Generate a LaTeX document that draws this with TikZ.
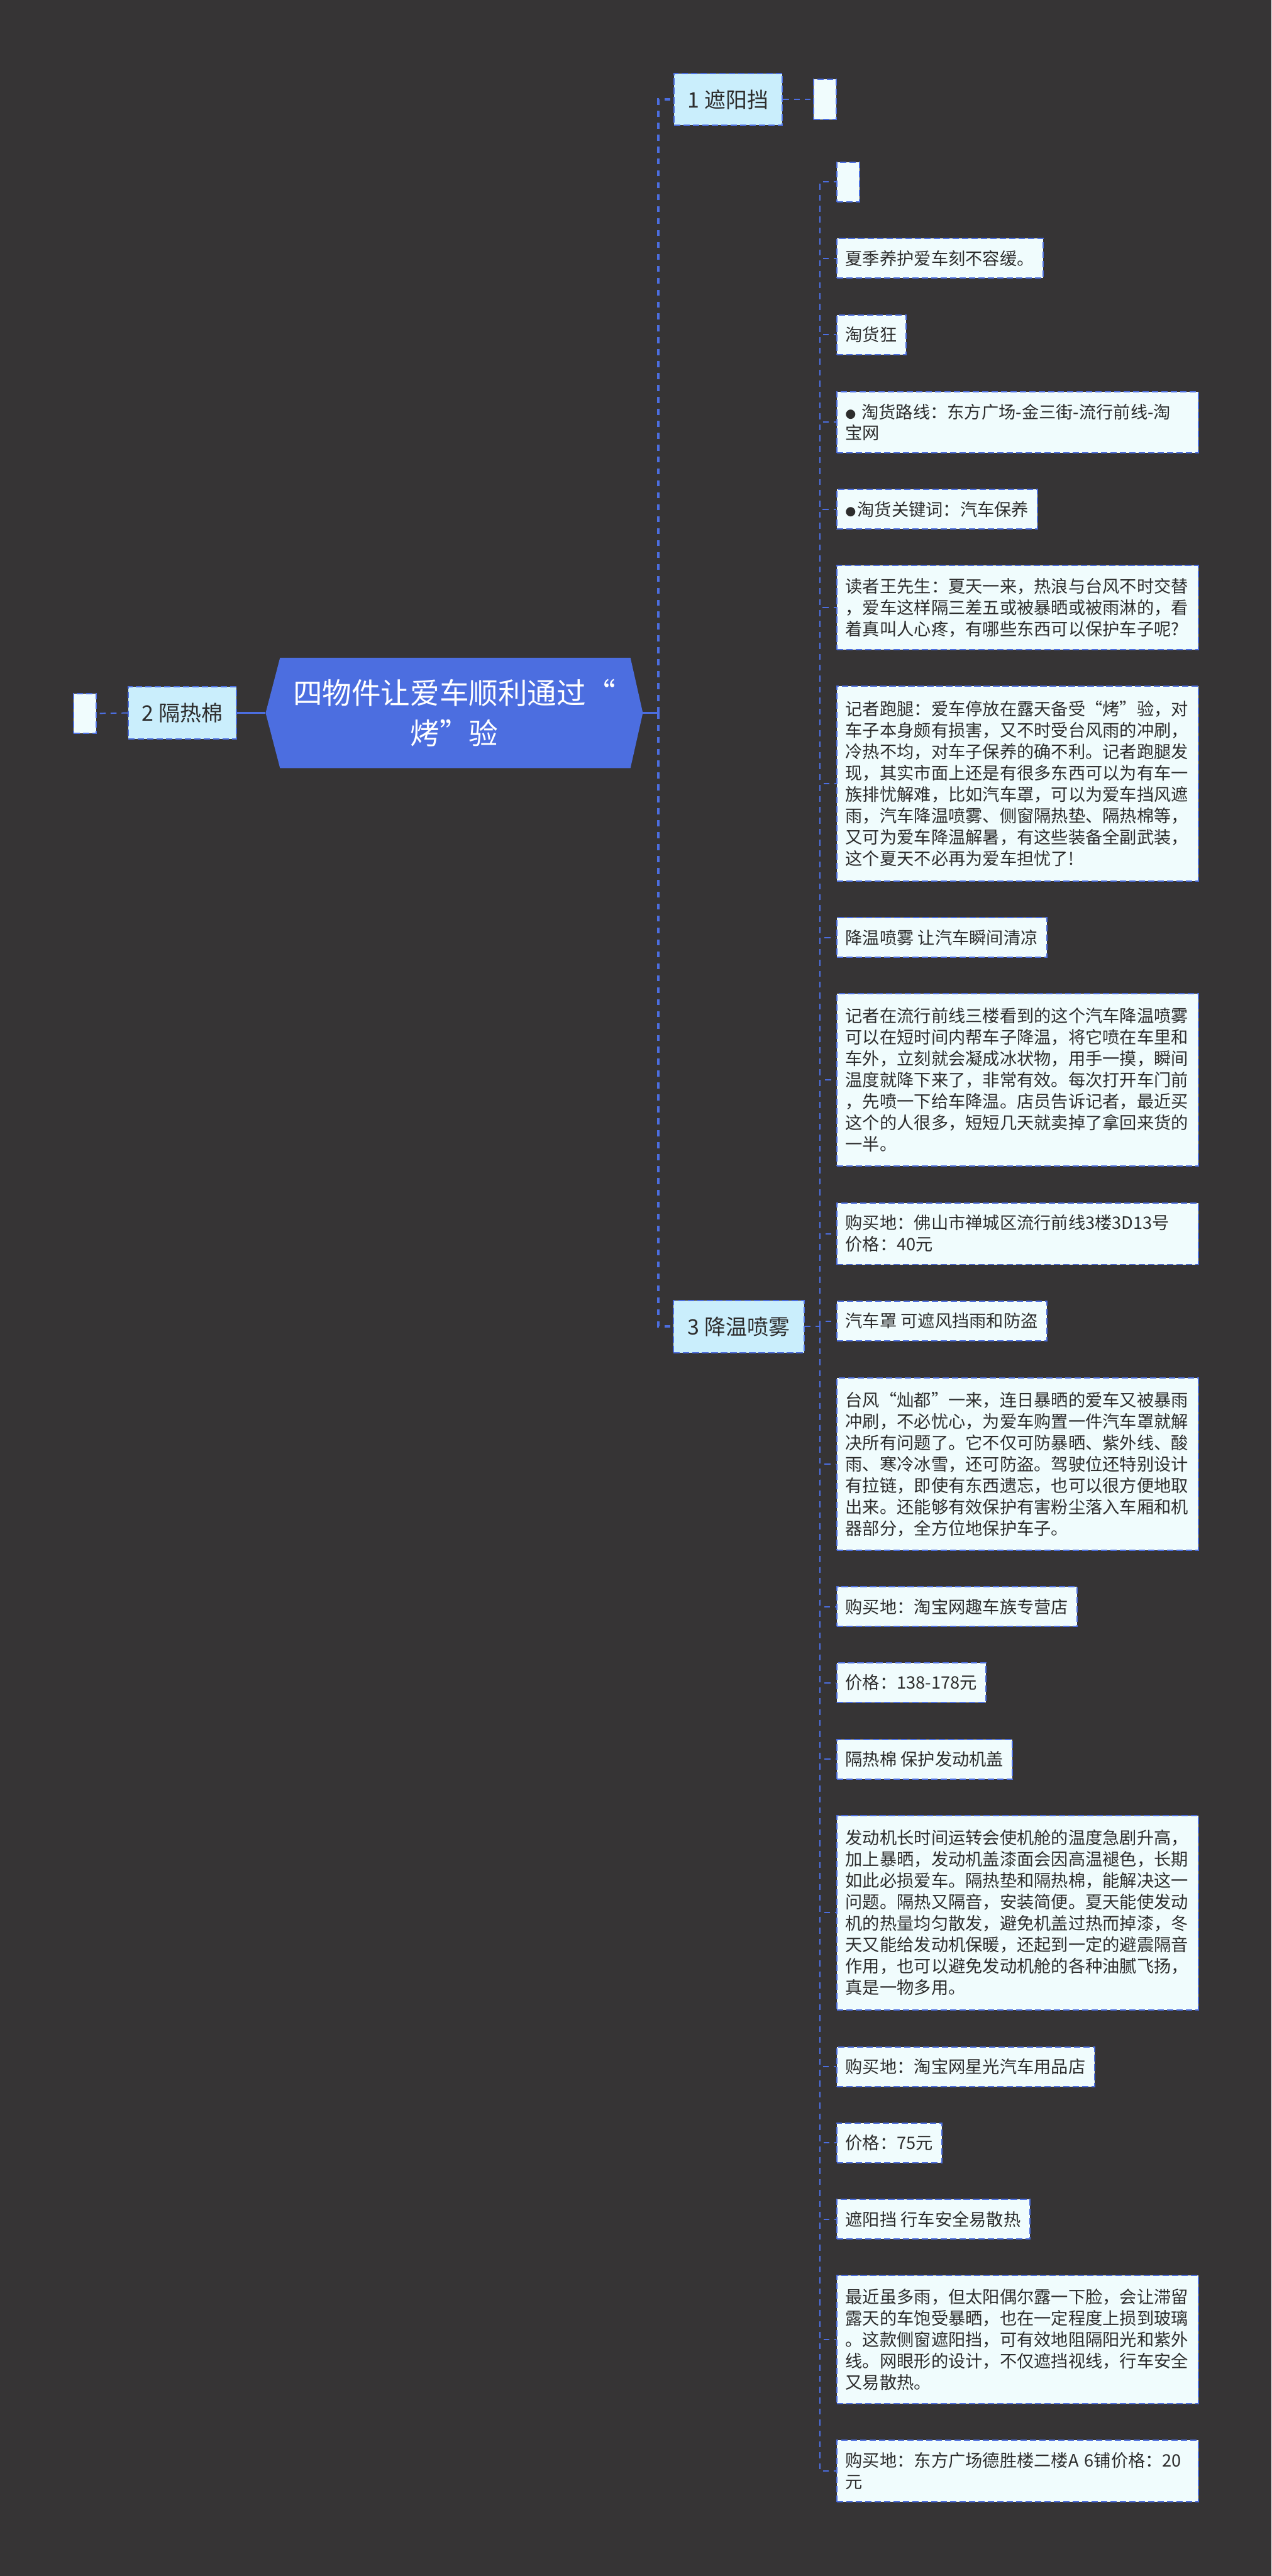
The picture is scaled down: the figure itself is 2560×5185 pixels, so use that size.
\documentclass[tikz,border=0pt]{standalone}
\usepackage{fontspec}
\setmainfont{Noto Sans CJK SC}
\usetikzlibrary{backgrounds}
\definecolor{bgc}{RGB}{54,52,53}
\definecolor{mblue}{RGB}{76,110,224}
\definecolor{lcyan}{RGB}{202,238,252}
\definecolor{leafc}{RGB}{240,252,253}
\definecolor{txt}{RGB}{45,45,45}
\newcommand\fwoq{\makebox[1em][r]{“}}
\newcommand\fwcq{\makebox[1em][l]{”}}
\newcommand\smbullet{{\fontsize{21}{43}\selectfont ●}}
\begin{document}
\begin{tikzpicture}[x=1pt,y=-1pt,
  box/.style={draw=mblue, line width=2.5pt, dash pattern=on 13pt off 6pt, inner sep=0pt},
  topic/.style={box, fill=lcyan, text=txt, font=\fontsize{43}{50}\selectfont, minimum height=105pt},
  leaf/.style={box, fill=leafc, text=txt, font=\fontsize{34.5}{43}\selectfont, anchor=west, inner xsep=18pt, minimum height=80pt},
  leafw/.style={leaf, text width=692pt, align=left},
  emptybox/.style={box, fill=leafc, minimum width=46pt, minimum height=80pt},
  trunk/.style={draw=mblue, line width=4.5pt, dash pattern=on 12pt off 12pt},
  twig/.style={draw=mblue, line width=2.5pt, dash pattern=on 12pt off 10pt},
  solidc/.style={draw=mblue, line width=4.5pt},
]
\useasboundingbox (0,0) rectangle (2560,5185);
\begin{pgfonlayer}{background}
\fill[bgc] (0,0) rectangle (2560,5185);
\end{pgfonlayer}

% root
\node[text=white, font=\fontsize{59}{82}\selectfont, align=center, minimum width=759pt, minimum height=222pt, inner sep=0pt] (root) at (914.5,1435) {四物件让爱车顺利通过\fwoq\\%
烤\fwcq 验};
\begin{pgfonlayer}{background}
\fill[mblue] (root.west) -- ([xshift=29pt]root.north west) -- ([xshift=-25pt]root.north east) -- (root.east) -- ([xshift=-25pt]root.south east) -- ([xshift=29pt]root.south west) -- cycle;
\end{pgfonlayer}

% topics
\node[topic, minimum width=218pt] (n1) at (1466,200) {1 遮阳挡};
\node[topic, minimum width=218pt] (n2) at (367,1435) {2 隔热棉};
\node[topic, minimum width=263pt] (n3) at (1487.5,2670) {3 降温喷雾};
\node[emptybox] (e1) at (1661,200) {};
\node[emptybox] (e2) at (170.5,1436) {};

% leaves of topic 3
\node[emptybox, anchor=west] (c0) at (1683,366) {};
\node[leaf] (c1) at (1683,520) {夏季养护爱车刻不容缓。};
\node[leaf] (c2) at (1683,674) {淘货狂};
\node[leafw, minimum height=123pt] (c3) at (1683,850) {\smbullet\ 淘货路线：东方广场-金三街-流行前线-淘\\%
宝网};
\node[leaf] (c4) at (1683,1025) {\smbullet\hspace{3pt}淘货关键词：汽车保养};
\node[leafw, minimum height=170pt] (c5) at (1683,1223) {读者王先生：夏天一来，热浪与台风不时交替\\%
，爱车这样隔三差五或被暴晒或被雨淋的，看\\%
着真叫人心疼，有哪些东西可以保护车子呢?};
\node[leafw, minimum height=392pt] (c6) at (1683,1577) {记者跑腿：爱车停放在露天备受\fwoq 烤\fwcq 验，对\\%
车子本身颇有损害，又不时受台风雨的冲刷，\\%
冷热不均，对车子保养的确不利。记者跑腿发\\%
现，其实市面上还是有很多东西可以为有车一\\%
族排忧解难，比如汽车罩，可以为爱车挡风遮\\%
雨，汽车降温喷雾、侧窗隔热垫、隔热棉等，\\%
又可为爱车降温解暑，有这些装备全副武装，\\%
这个夏天不必再为爱车担忧了!};
\node[leaf] (c7) at (1683,1887) {降温喷雾 让汽车瞬间清凉};
\node[leafw, minimum height=347pt] (c8) at (1683,2174) {记者在流行前线三楼看到的这个汽车降温喷雾\\%
可以在短时间内帮车子降温，将它喷在车里和\\%
车外，立刻就会凝成冰状物，用手一摸，瞬间\\%
温度就降下来了，非常有效。每次打开车门前\\%
，先喷一下给车降温。店员告诉记者，最近买\\%
这个的人很多，短短几天就卖掉了拿回来货的\\%
一半。};
\node[leafw, minimum height=124pt] (c9) at (1683,2483) {购买地：佛山市禅城区流行前线3楼3D13号\\%
价格：40元};
\node[leaf] (c10) at (1683,2659) {汽车罩 可遮风挡雨和防盗};
\node[leafw, minimum height=347pt] (c11) at (1683,2947) {台风\fwoq 灿都\fwcq 一来，连日暴晒的爱车又被暴雨\\%
冲刷，不必忧心，为爱车购置一件汽车罩就解\\%
决所有问题了。它不仅可防暴晒、紫外线、酸\\%
雨、寒冷冰雪，还可防盗。驾驶位还特别设计\\%
有拉链，即使有东西遗忘，也可以很方便地取\\%
出来。还能够有效保护有害粉尘落入车厢和机\\%
器部分，全方位地保护车子。};
\node[leaf] (c12) at (1683,3234) {购买地：淘宝网趣车族专营店};
\node[leaf] (c13) at (1683,3387) {价格：138-178元};
\node[leaf] (c14) at (1683,3541) {隔热棉 保护发动机盖};
\node[leafw, minimum height=391pt] (c15) at (1683,3850) {发动机长时间运转会使机舱的温度急剧升高，\\%
加上暴晒，发动机盖漆面会因高温褪色，长期\\%
如此必损爱车。隔热垫和隔热棉，能解决这一\\%
问题。隔热又隔音，安装简便。夏天能使发动\\%
机的热量均匀散发，避免机盖过热而掉漆，冬\\%
天又能给发动机保暖，还起到一定的避震隔音\\%
作用，也可以避免发动机舱的各种油腻飞扬，\\%
真是一物多用。};
\node[leaf] (c16) at (1683,4160) {购买地：淘宝网星光汽车用品店};
\node[leaf] (c17) at (1683,4313) {价格：75元};
\node[leaf] (c18) at (1683,4467) {遮阳挡 行车安全易散热};
\node[leafw, minimum height=258pt] (c19) at (1683,4709) {最近虽多雨，但太阳偶尔露一下脸，会让滞留\\%
露天的车饱受暴晒，也在一定程度上损到玻璃\\%
。这款侧窗遮阳挡，可有效地阻隔阳光和紫外\\%
线。网眼形的设计，不仅遮挡视线，行车安全\\%
又易散热。};
\node[leafw, minimum height=124pt] (c20) at (1683,4974) {购买地：东方广场德胜楼二楼A 6铺价格：20\\%
元};

% connectors
\coordinate (rj) at (1325,1435);
\draw[solidc] (root.east) -- (rj);
\draw[trunk] (rj) |- (n1.west);
\draw[trunk] (rj) |- (n3.west);
\draw[solidc] (root.west) -- (n2.east);
\draw[twig] (n2.west) -- (e2.east);
\draw[twig] (n1.east) -- (e1.west);
\coordinate (sj) at (1651,2670);
\draw[twig] (n3.east) -- (sj);
\foreach \c in {c0,c1,c2,c3,c4,c5,c6,c7,c8,c9,c10,c11,c12,c13,c14,c15,c16,c17,c18,c19,c20}
  \draw[twig] (sj) |- (\c.west);
\end{tikzpicture}
\end{document}
